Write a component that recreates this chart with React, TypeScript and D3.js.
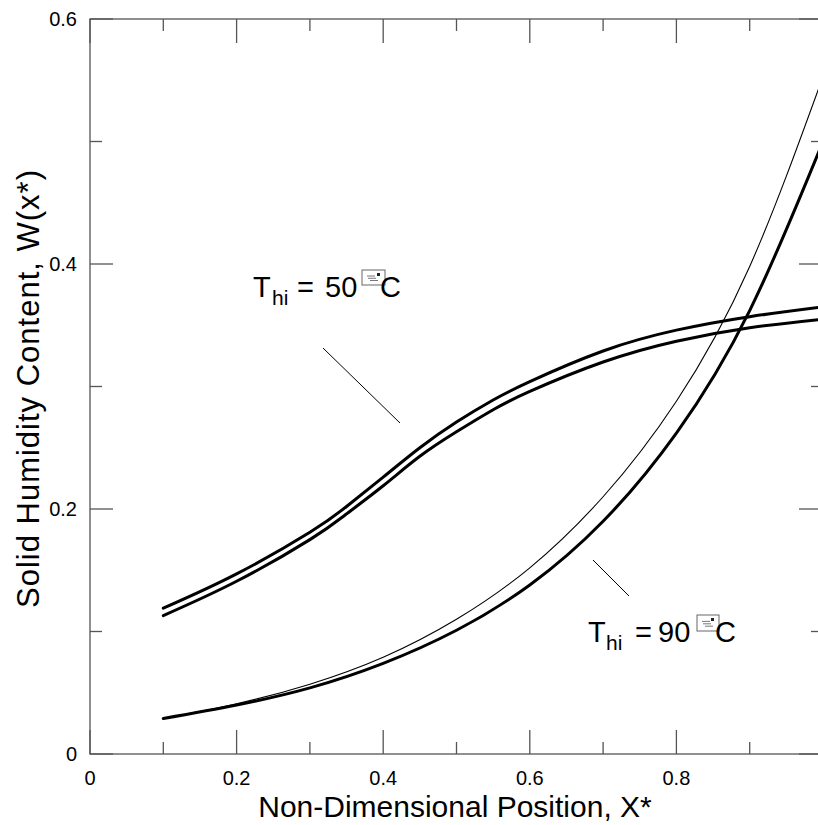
import React from "react";
import * as d3 from "d3";

// ---- data ----
const x50 = [0.1, 0.2, 0.3, 0.35, 0.4, 0.45, 0.5, 0.55, 0.6, 0.7, 0.8, 0.9, 1.0];
const upper50 = [0.119, 0.147, 0.181, 0.202, 0.226, 0.25, 0.271, 0.289, 0.304, 0.329, 0.346, 0.357, 0.365];
const lower50 = [0.113, 0.141, 0.175, 0.196, 0.219, 0.243, 0.263, 0.281, 0.296, 0.32, 0.337, 0.348, 0.355];

const x90 = [0.1, 0.2, 0.3, 0.4, 0.5, 0.6, 0.7, 0.8, 0.9, 1.0];
const thin90 = [0.029, 0.041, 0.057, 0.079, 0.11, 0.152, 0.21, 0.288, 0.398, 0.553];
const thick90 = [0.029, 0.04, 0.054, 0.074, 0.101, 0.138, 0.19, 0.262, 0.362, 0.5];

const xMajor = [0, 0.2, 0.4, 0.6, 0.8, 1.0];
const xMinor = [0.1, 0.3, 0.5, 0.7, 0.9];
const xTickLabels = ["0", "0.2", "0.4", "0.6", "0.8"];
const yMajor = [0, 0.2, 0.4, 0.6];
const yMinor = [0.1, 0.3, 0.5];
const yTickLabels = ["0", "0.2", "0.4", "0.6"];

const xTitle = "Non-Dimensional Position, X*";
const yTitle = "Solid Humidity Content, W(x*)";

const FONT = "'Liberation Sans', Arial, Helvetica, sans-serif";

export default function App() {
  const W = 818, H = 825;
  const x = d3.scaleLinear().domain([0, 1]).range([90, 823]);
  const y = d3.scaleLinear().domain([0, 0.6]).range([754, 19]);
  const line = d3
    .line<[number, number]>()
    .x((d) => x(d[0]))
    .y((d) => y(d[1]))
    .curve(d3.curveNatural);
  const mk = (xs: number[], ys: number[]) => line(xs.map((v, i) => [v, ys[i]] as [number, number])) || "";

  const L = x(0), R = x(1), T = y(0.6), B = y(0);
  const frame = "#555";
  const majLen = 24, minLen = 12;

  const box = (bx: number, by: number, w: number, h: number) => (
    <g>
      <rect x={bx} y={by} width={w} height={h} fill="#fff" stroke="#666" strokeWidth={1} />
      <line x1={bx + 5} x2={bx + 13} y1={by + h * 0.4} y2={by + h * 0.4} stroke="#777" strokeWidth={1} />
      <line x1={bx + 6} x2={bx + 14} y1={by + h * 0.55} y2={by + h * 0.55} stroke="#777" strokeWidth={1} />
      <line x1={bx + 8} x2={bx + 16} y1={by + h * 0.7} y2={by + h * 0.7} stroke="#777" strokeWidth={1} />
      <rect x={bx + w - 8} y={by + 3} width={3} height={3} fill="#222" />
    </g>
  );

  return (
    <svg width={W} height={H} style={{ position: "absolute", left: 0, top: 0, background: "#fff" }} fontFamily={FONT}>
      <rect x={0} y={0} width={W} height={H} fill="#fff" />
      {/* frame */}
      <rect x={L} y={T} width={R - L} height={B - T} fill="none" stroke={frame} strokeWidth={1.3} />
      {xMajor.map((v) => (
        <g key={"xM" + v}>
          <line x1={x(v)} x2={x(v)} y1={B} y2={B - majLen} stroke={frame} strokeWidth={1.3} />
          <line x1={x(v)} x2={x(v)} y1={T} y2={T + majLen} stroke={frame} strokeWidth={1.3} />
        </g>
      ))}
      {xMinor.map((v) => (
        <g key={"xm" + v}>
          <line x1={x(v)} x2={x(v)} y1={B} y2={B - minLen} stroke={frame} strokeWidth={1.3} />
          <line x1={x(v)} x2={x(v)} y1={T} y2={T + minLen} stroke={frame} strokeWidth={1.3} />
        </g>
      ))}
      {yMajor.map((v) => (
        <g key={"yM" + v}>
          <line x1={L} x2={L + majLen - 1} y1={y(v)} y2={y(v)} stroke={frame} strokeWidth={1.3} />
          <line x1={R} x2={R - majLen} y1={y(v)} y2={y(v)} stroke={frame} strokeWidth={1.3} />
        </g>
      ))}
      {yMinor.map((v) => (
        <g key={"ym" + v}>
          <line x1={L} x2={L + minLen} y1={y(v)} y2={y(v)} stroke={frame} strokeWidth={1.3} />
          <line x1={R} x2={R - minLen} y1={y(v)} y2={y(v)} stroke={frame} strokeWidth={1.3} />
        </g>
      ))}
      {/* tick labels */}
      {xTickLabels.map((t, i) => (
        <text key={"xl" + t} x={x(xMajor[i])} y={785} fontSize={20} textAnchor="middle" fill="#000">
          {t}
        </text>
      ))}
      {yTickLabels.map((t, i) => (
        <text key={"yl" + t} x={77} y={y(yMajor[i]) + 7} fontSize={20} textAnchor="end" fill="#000">
          {t}
        </text>
      ))}
      {/* axis titles */}
      <text x={455} y={817} fontSize={30} textAnchor="middle" fill="#000">
        {xTitle}
      </text>
      <text
        transform={`translate(39,389) rotate(-90)`}
        fontSize={31}
        textAnchor="middle"
        fill="#000"
        textLength={438}
        lengthAdjust="spacing"
      >
        {yTitle}
      </text>
      {/* curves */}
      <g fill="none" stroke="#000" strokeLinecap="round">
        <path d={mk(x50, upper50)} strokeWidth={3} />
        <path d={mk(x50, lower50)} strokeWidth={3} />
        <path d={mk(x90, thin90)} strokeWidth={1.1} />
        <path d={mk(x90, thick90)} strokeWidth={3} />
      </g>
      {/* leader lines */}
      <line x1={323} y1={348} x2={400} y2={423} stroke="#000" strokeWidth={1} />
      <line x1={593} y1={560} x2={629} y2={596} stroke="#000" strokeWidth={1} />
      {/* label 50 */}
      <g fill="#000">
        <text x={253} y={297} fontSize={29}>T</text>
        <text x={272} y={305} fontSize={21}>hi</text>
        <text x={297} y={297} fontSize={29}>=</text>
        <text x={325} y={297} fontSize={29}>50</text>
        {box(362, 270, 23, 15)}
        <text x={380} y={297} fontSize={29}>C</text>
      </g>
      {/* label 90 */}
      <g fill="#000">
        <text x={588} y={642} fontSize={29}>T</text>
        <text x={606} y={650} fontSize={21}>hi</text>
        <text x={635} y={642} fontSize={29}>=</text>
        <text x={658} y={642} fontSize={29}>90</text>
        {box(697, 615, 22, 16)}
        <text x={715} y={642} fontSize={29}>C</text>
      </g>
    </svg>
  );
}
